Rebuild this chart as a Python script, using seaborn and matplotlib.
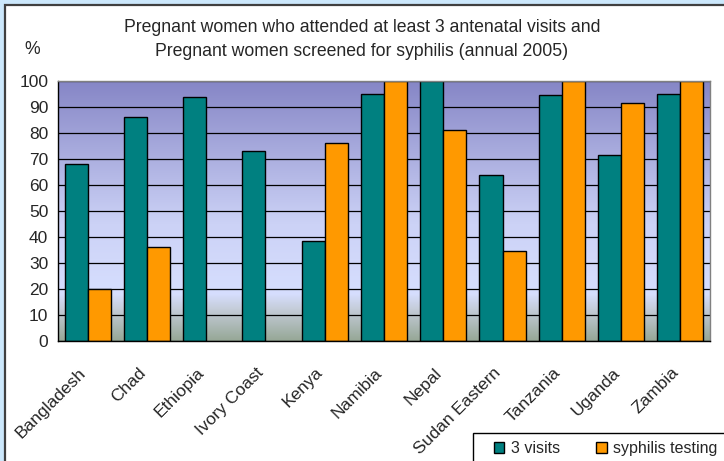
import numpy as np
import pandas as pd
import matplotlib.pyplot as plt
import matplotlib.transforms as mtransforms
import seaborn as sns
from matplotlib.colors import LinearSegmentedColormap
from matplotlib.patches import Rectangle

# datos
paises = ["Bangladesh", "Chad", "Ethiopia", "Ivory Coast", "Kenya", "Namibia",
          "Nepal", "Sudan Eastern", "Tanzania", "Uganda", "Zambia"]
visitas = [68, 86, 94, 73, 38.5, 95, 100, 64, 94.5, 71.5, 95]
sifilis = [20, 36, np.nan, np.nan, 76, 100, 81, 34.5, 100, 91.5, 100]
series = ["3 visits", "syphilis testing"]

data = pd.DataFrame({
    "pais": paises * 2,
    "valor": visitas + sifilis,
    "serie": [series[0]] * len(paises) + [series[1]] * len(paises),
})

sns.set_style("white")
plt.rcParams["font.family"] = ["Liberation Sans", "DejaVu Sans"]

fig = plt.figure(figsize=(7.24, 4.61), dpi=100, facecolor="#cce8fc")
# marco blanco con borde gris
fig.patches.append(Rectangle((5 / 724, -0.1), 1.2, 1.1 - 5 / 461,
                             transform=fig.transFigure, facecolor="white",
                             edgecolor="#404040", linewidth=1.6, zorder=-5))

ax = fig.add_axes([58 / 724, 1 - 341 / 461, 652 / 724, 260 / 461])

# fondo degradado
cmap = LinearSegmentedColormap.from_list("fondo", [
    (0.0, "#96a796"), (0.12, "#c4ccd8"), (0.18, "#d6defe"),
    (0.45, "#ccd2f6"), (1.0, "#8686c6")])
grad = np.linspace(0, 1, 256).reshape(-1, 1)
ax.imshow(grad, extent=[-0.5, len(paises) - 0.5, 0, 100], aspect="auto",
          cmap=cmap, origin="lower", zorder=-1)

sns.barplot(data=data, x="pais", y="valor", hue="serie", ax=ax,
            palette=["#008080", "#ff9900"], edgecolor="black", linewidth=1,
            width=0.78, saturation=1, zorder=2)

ax.set_xlim(-0.5, len(paises) - 0.5)
ax.set_ylim(0, 100)
ax.set_yticks(range(0, 101, 10))
ax.set_axisbelow(True)
ax.yaxis.grid(True, color="black", linewidth=0.9)
ax.set_xlabel("")
ax.set_ylabel("")

# ticks entre categorias
ax.set_xticks(np.arange(-0.5, len(paises), 1), minor=True)
ax.tick_params(axis="x", which="major", length=0, pad=21)
ax.tick_params(axis="x", which="minor", length=5, width=1, color="black", direction="out")
ax.tick_params(axis="y", length=5, width=1, color="black", direction="out", labelsize=12.5, pad=2)
ax.set_xticks(range(len(paises)))
ax.set_xticklabels(paises, rotation=45, ha="right", va="center", rotation_mode="anchor", fontsize=12.5)
desplazar = mtransforms.ScaledTranslation(-4 / 100, 0, fig.dpi_scale_trans)
for lbl in ax.get_xticklabels():
    lbl.set_transform(lbl.get_transform() + desplazar)

for lado in ["left", "bottom"]:
    ax.spines[lado].set_color("black")
    ax.spines[lado].set_linewidth(1)
for lado in ["top", "right"]:
    ax.spines[lado].set_color("#808080")
    ax.spines[lado].set_linewidth(1)

handles, labels = ax.get_legend_handles_labels()
ax.get_legend().remove()
fig.patches.append(Rectangle((473 / 724, -0.1), 0.5, 0.1 + 1 - 433 / 461,
                             transform=fig.transFigure, facecolor="white",
                             edgecolor="black", linewidth=1, zorder=3))
leg = fig.legend(handles, labels, loc="upper left", bbox_to_anchor=(489 / 724, 1 - 436 / 461),
                 ncol=2, frameon=False, borderaxespad=0, handlelength=0.65, handleheight=0.65,
                 handletextpad=0.4, columnspacing=2.3, fontsize=11.5, borderpad=0.3)
leg.set_zorder(4)

fig.text(0.5, 1 - 28 / 461, "Pregnant women who attended at least 3 antenatal visits and",
         ha="center", va="center", fontsize=12.7)
fig.text(0.5, 1 - 52 / 461, "Pregnant women screened for syphilis (annual 2005)",
         ha="center", va="center", fontsize=12.7)
fig.text(32 / 724, 1 - 50 / 461, "%", ha="center", va="center", fontsize=12.7)

fig.savefig("out.png", dpi=100, facecolor=fig.get_facecolor())
